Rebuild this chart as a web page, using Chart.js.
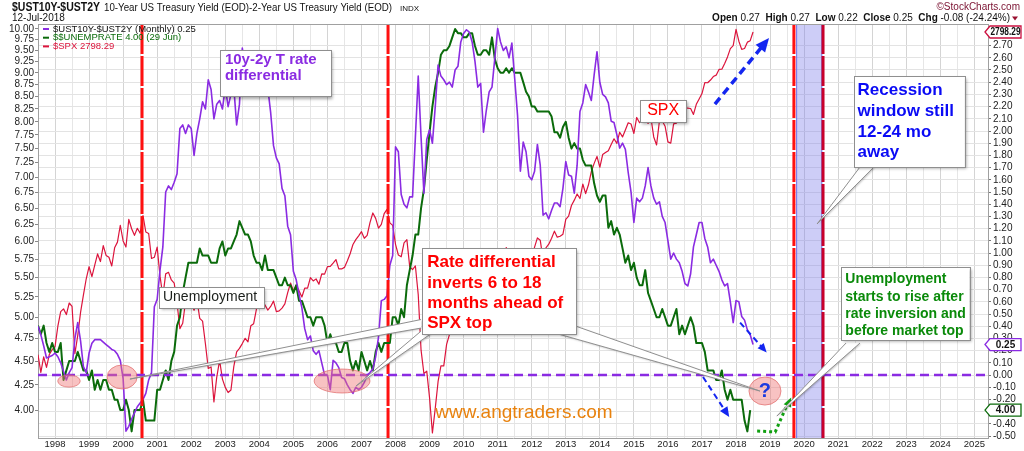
<!DOCTYPE html>
<html><head><meta charset="utf-8">
<script src="https://cdn.jsdelivr.net/npm/chart.js@4.4.1/dist/chart.umd.min.js"></script>
<style>html,body{margin:0;padding:0;background:#fff;overflow:hidden}canvas{display:block}</style>
</head><body>
<canvas id="c" width="1024" height="451" style="width:1024px;height:451px"></canvas>
<script>
// ---------- DATA (monthly, first value = Jul 1997) ----------
const START_YEAR = 1997, START_MONTH = 7;
const yearLabels = ['1998','1999','2000','2001','2002','2003','2004','2005','2006','2007','2008','2009','2010','2011','2012','2013','2014','2015','2016','2017','2018','2019','2020','2021','2022','2023','2024','2025'];
const leftTicks = ['4.00','4.25','4.50','4.75','5.00','5.25','5.50','5.75','6.00','6.25','6.50','6.75','7.00','7.25','7.50','7.75','8.00','8.25','8.50','8.75','9.00','9.25','9.50','9.75','10.00'];
const rightTicks = ['-0.50','-0.40','-0.30','-0.20','-0.10','0.00','0.10','0.20','0.30','0.40','0.50','0.60','0.70','0.80','0.90','1.00','1.10','1.20','1.30','1.40','1.50','1.60','1.70','1.80','1.90','2.00','2.10','2.20','2.30','2.40','2.50','2.60','2.70'];

// 10y-2y spread, % (right axis)
const spread = [
 0.40,0.33,0.24,0.14,0.15,0.16,
 0.18,0.15,0.10,0.03,-0.04,0.02,0.06,0.30,0.43,0.28,0.07,0.02,
 0.18,0.26,0.29,0.29,0.29,0.27,0.25,0.23,0.21,0.20,0.17,0.12,
 -0.03,-0.46,-0.42,-0.36,-0.31,-0.26,-0.23,-0.20,-0.15,-0.04,0.02,0.56,
 0.62,0.86,1.05,1.50,1.55,1.52,1.58,1.65,2.02,2.05,1.98,2.05,
 2.02,1.80,1.98,2.10,2.24,2.18,2.42,2.34,2.10,2.22,2.25,2.18,
 2.36,2.20,2.30,2.36,2.05,2.22,2.68,2.52,2.35,2.52,2.38,2.45,
 2.35,2.45,2.38,2.35,2.15,1.88,1.78,1.73,1.53,1.47,1.22,1.15,
 0.85,0.78,0.66,0.55,0.38,0.29,0.32,0.20,0.17,0.20,0.10,0.00,
 0.00,-0.12,0.12,0.10,0.06,-0.02,-0.03,-0.08,-0.12,-0.15,-0.10,-0.12,
 -0.10,-0.06,0.00,0.02,0.05,0.15,0.31,0.61,0.62,0.65,0.90,0.98,
 1.87,1.83,1.48,1.40,1.37,1.46,1.46,1.95,2.45,1.95,1.49,1.93,
 2.01,1.90,2.20,2.54,2.45,2.42,2.38,2.40,2.36,2.50,2.53,2.73,
 2.80,2.83,2.81,2.73,2.57,2.36,2.39,1.99,2.17,2.32,2.36,2.60,
 2.84,2.73,2.66,2.69,2.60,2.72,2.43,2.13,1.67,1.91,1.83,1.63,
 1.60,1.67,1.89,1.72,1.31,1.33,1.28,1.35,1.41,1.41,1.38,1.53,
 1.75,1.64,1.63,1.49,1.72,2.16,2.23,2.38,2.32,2.25,2.46,2.65,
 2.40,2.30,2.28,2.23,2.08,2.07,1.97,1.86,1.90,1.85,1.66,1.50,
 1.25,1.45,1.42,1.45,1.55,1.70,1.55,1.45,1.40,1.42,1.30,1.25,
 1.10,0.95,1.00,0.95,0.92,0.85,0.75,0.73,0.83,1.05,1.15,1.25,
 1.25,1.12,1.05,0.92,0.95,0.90,0.85,0.78,0.73,0.75,0.60,0.43,
 0.61,0.60,0.48,0.45,0.37,0.33,0.25
];
// Unemployment rate, % (left log axis)
const unemployment = [
 4.9,4.8,4.9,4.7,4.6,4.7,
 4.6,4.6,4.7,4.3,4.4,4.5,4.5,4.5,4.6,4.5,4.4,4.4,
 4.3,4.4,4.2,4.3,4.2,4.3,4.3,4.2,4.2,4.1,4.1,4.0,
 4.0,4.1,4.0,3.8,4.0,4.0,4.0,4.1,3.9,3.9,3.9,3.9,
 4.2,4.2,4.3,4.4,4.3,4.5,4.6,4.9,5.0,5.3,5.5,5.7,
 5.7,5.7,5.7,5.9,5.8,5.8,5.8,5.7,5.7,5.7,5.9,6.0,
 5.8,5.9,5.9,6.0,6.1,6.3,6.2,6.1,6.1,6.0,5.8,5.7,
 5.7,5.6,5.8,5.6,5.6,5.6,5.5,5.4,5.4,5.5,5.4,5.4,
 5.3,5.4,5.2,5.2,5.1,5.0,5.0,4.9,5.0,5.0,5.0,4.9,
 4.7,4.8,4.7,4.7,4.6,4.6,4.7,4.7,4.5,4.4,4.5,4.4,
 4.6,4.5,4.4,4.5,4.4,4.6,4.7,4.6,4.7,4.7,4.7,5.0,
 5.0,4.9,5.1,5.0,5.4,5.6,5.8,6.1,6.1,6.5,6.8,7.3,
 7.8,8.3,8.7,9.0,9.4,9.5,9.5,9.6,9.8,10.0,9.9,9.9,
 9.8,9.8,9.9,9.9,9.6,9.4,9.4,9.5,9.5,9.4,9.8,9.3,
 9.1,9.0,9.0,9.1,9.0,9.1,9.0,9.0,9.0,8.8,8.6,8.5,
 8.3,8.3,8.2,8.2,8.2,8.2,8.2,8.1,7.8,7.8,7.7,7.9,
 8.0,7.7,7.5,7.6,7.5,7.5,7.3,7.2,7.2,7.2,6.9,6.7,
 6.6,6.7,6.7,6.2,6.3,6.1,6.2,6.1,5.9,5.7,5.8,5.6,
 5.7,5.5,5.4,5.4,5.6,5.3,5.2,5.1,5.0,5.0,5.1,5.0,
 4.9,4.9,5.0,5.1,4.8,4.9,4.8,4.9,5.0,4.9,4.7,4.7,
 4.7,4.6,4.4,4.4,4.4,4.3,4.3,4.4,4.2,4.1,4.2,4.1,
 4.1,4.1,4.1,3.9,3.8,4.0
];
// S&P 500 monthly close (hidden log axis)
const spx = [
 954.3,899.5,947.3,914.6,955.4,970.4,
 980.3,1049.3,1101.8,1111.8,1090.8,1133.8,1120.7,957.3,1017.0,1098.7,1163.6,1229.2,
 1279.6,1238.3,1286.4,1335.2,1301.8,1372.7,1328.7,1320.4,1282.7,1362.9,1388.9,1469.3,
 1394.5,1366.4,1498.6,1452.4,1420.6,1454.6,1430.8,1517.7,1436.5,1429.4,1315.2,1320.3,
 1366.0,1239.9,1160.3,1249.5,1255.8,1224.4,1211.2,1133.6,1040.9,1059.8,1139.5,1148.1,
 1130.2,1106.7,1147.4,1076.9,1067.1,989.8,911.6,916.1,815.3,885.8,936.3,879.8,
 855.7,841.2,848.2,916.9,963.6,974.5,990.3,1008.0,996.0,1050.7,1058.2,1111.9,
 1131.1,1144.9,1126.2,1107.3,1120.7,1140.8,1101.7,1104.2,1114.6,1130.2,1173.8,1211.9,
 1181.3,1203.6,1180.6,1156.9,1191.5,1191.3,1234.2,1220.3,1228.8,1207.0,1249.5,1248.3,
 1280.1,1280.7,1294.8,1310.6,1270.1,1270.2,1276.7,1303.8,1335.9,1377.9,1400.6,1418.3,
 1438.2,1406.8,1420.9,1482.4,1530.6,1503.4,1455.3,1473.9,1527.0,1549.4,1481.1,1468.4,
 1378.6,1330.6,1322.7,1385.6,1400.4,1280.0,1267.4,1282.8,1166.4,968.8,896.2,903.3,
 825.9,735.1,797.9,872.8,919.1,919.3,987.5,1020.6,1057.1,1036.2,1095.6,1115.1,
 1073.9,1104.5,1169.4,1186.7,1089.4,1030.7,1101.6,1049.3,1141.2,1183.3,1180.6,1257.6,
 1286.1,1327.2,1325.8,1363.6,1345.2,1320.6,1292.3,1218.9,1131.4,1253.3,1247.0,1257.6,
 1312.4,1365.7,1408.5,1397.9,1310.3,1362.2,1379.3,1406.6,1440.7,1412.2,1416.2,1426.2,
 1498.1,1514.7,1569.2,1597.6,1630.7,1606.3,1685.7,1633.0,1681.6,1756.5,1805.8,1848.4,
 1782.6,1859.5,1872.3,1883.9,1923.6,1960.2,1930.7,2003.4,1972.3,2018.1,2067.6,2058.9,
 1995.0,2104.5,2067.9,2085.5,2107.4,2063.1,2104.0,1972.2,1920.0,2079.4,2080.4,2043.9,
 1940.2,1932.2,2059.7,2065.3,2096.9,2098.9,2173.6,2170.9,2168.3,2126.2,2199.0,2238.8,
 2278.9,2363.6,2362.7,2384.2,2411.8,2423.4,2470.3,2471.7,2519.4,2575.3,2647.6,2673.6,
 2823.8,2713.8,2640.9,2648.1,2705.3,2718.4,2798.29
];
const quote = {open:'0.27', high:'0.27', low:'0.22', close:'0.25', chg:'-0.08 (-24.24%)'};
const unempDate = '29 Jun';

// ---------- CHART ----------
const FONT = '"Liberation Sans", Arial, Helvetica, sans-serif';
const monthX = i => START_YEAR + (START_MONTH - 1 + i) / 12;
const series = (vals, axis, color, width) => ({
  data: vals.map((v, i) => ({x: monthX(i), y: v})),
  yAxisID: axis, borderColor: color, borderWidth: width, pointRadius: 0,
  fill: false, tension: 0, borderJoinStyle: 'round'
});
const last = a => a[a.length - 1];

function box(ctx, x1, y1, x2, y2) {
  ctx.save();
  ctx.shadowColor = 'rgba(0,0,0,0.35)'; ctx.shadowOffsetX = 2; ctx.shadowOffsetY = 2; ctx.shadowBlur = 3;
  ctx.fillStyle = '#fff'; ctx.fillRect(x1, y1, x2 - x1, y2 - y1);
  ctx.restore();
  ctx.strokeStyle = '#8f8f8f'; ctx.lineWidth = 1; ctx.setLineDash([]);
  ctx.strokeRect(Math.round(x1) + 0.5, Math.round(y1) + 0.5, Math.round(x2 - x1), Math.round(y2 - y1));
}
function wedge(ctx, a, b, tip) {
  ctx.save();
  ctx.beginPath(); ctx.moveTo(a[0], a[1]); ctx.lineTo(tip[0], tip[1]); ctx.lineTo(b[0], b[1]); ctx.closePath();
  ctx.shadowColor = 'rgba(0,0,0,0.25)'; ctx.shadowOffsetX = 1; ctx.shadowOffsetY = 1; ctx.shadowBlur = 2;
  ctx.fillStyle = '#fff'; ctx.fill();
  ctx.restore();
  ctx.beginPath(); ctx.moveTo(a[0], a[1]); ctx.lineTo(tip[0], tip[1]); ctx.lineTo(b[0], b[1]);
  ctx.strokeStyle = '#8f8f8f'; ctx.lineWidth = 1; ctx.setLineDash([]); ctx.stroke();
}
function head(ctx, x1, y1, x2, y2, size, color) {
  const a = Math.atan2(y2 - y1, x2 - x1);
  ctx.beginPath(); ctx.moveTo(x2, y2);
  ctx.lineTo(x2 - size * Math.cos(a - 0.42), y2 - size * Math.sin(a - 0.42));
  ctx.lineTo(x2 - size * Math.cos(a + 0.42), y2 - size * Math.sin(a + 0.42));
  ctx.closePath(); ctx.fillStyle = color; ctx.fill();
}
function dashedArrow(ctx, p1, p2, width, dash, size, color) {
  const a = Math.atan2(p2[1] - p1[1], p2[0] - p1[0]);
  ctx.beginPath(); ctx.moveTo(p1[0], p1[1]);
  ctx.lineTo(p2[0] - size * 0.8 * Math.cos(a), p2[1] - size * 0.8 * Math.sin(a));
  ctx.strokeStyle = color; ctx.lineWidth = width; ctx.setLineDash(dash); ctx.stroke(); ctx.setLineDash([]);
  head(ctx, p1[0], p1[1], p2[0], p2[1], size, color);
}
function lines(ctx, arr, x, ys, font, color) {
  ctx.font = font; ctx.fillStyle = color; ctx.textAlign = 'left'; ctx.textBaseline = 'middle';
  arr.forEach((t, i) => ctx.fillText(t, x, ys[i]));
}

const deco = {
  id: 'deco',
  afterDatasetsDraw(chart) {
    const {ctx, chartArea: ca, scales} = chart;
    const X = v => scales.x.getPixelForValue(v);
    const Y = v => scales.yR.getPixelForValue(v);
    const P = (yr, v) => [X(yr), Y(v)];
    ctx.save();
    ctx.beginPath(); ctx.rect(ca.left, ca.top, ca.right - ca.left, ca.bottom - ca.top); ctx.clip();

    // recession window
    ctx.fillStyle = 'rgba(130,130,235,0.40)';
    ctx.fillRect(X(2019.78), ca.top, X(2020.52) - X(2019.78), ca.bottom - ca.top);
    ctx.strokeStyle = '#6f6fe8'; ctx.lineWidth = 1;
    [2019.78, 2020.52].forEach(v => { ctx.beginPath(); ctx.moveTo(X(v), ca.top); ctx.lineTo(X(v), ca.bottom); ctx.stroke(); });

    // vertical red lines
    [[2000.555, '#ff1010'], [2007.78, '#ff1010'], [2019.70, '#ff1010'], [2020.555, '#c8002c']].forEach(([v, c]) => {
      ctx.beginPath(); ctx.moveTo(X(v), ca.top); ctx.lineTo(X(v), ca.bottom);
      ctx.strokeStyle = c; ctx.lineWidth = 3; ctx.setLineDash([30, 2]); ctx.stroke();
    });
    ctx.setLineDash([]);

    // zero line (inversion level)
    ctx.beginPath(); ctx.moveTo(ca.left, Y(0)); ctx.lineTo(ca.right, Y(0));
    ctx.strokeStyle = '#8a2be2'; ctx.lineWidth = 2.5; ctx.setLineDash([9, 5]); ctx.stroke(); ctx.setLineDash([]);

    // pink ellipses
    [[1998.41, -0.049, 0.33, 0.05], [1999.97, -0.016, 0.44, 0.098], [2006.43, -0.049, 0.82, 0.098], [2018.85, -0.131, 0.47, 0.115]].forEach(([cx, cy, rx, ry]) => {
      ctx.beginPath();
      ctx.ellipse(X(cx), Y(cy), X(cx + rx) - X(cx), Y(cy - ry) - Y(cy), 0, 0, Math.PI * 2);
      ctx.fillStyle = 'rgba(240,120,120,0.45)'; ctx.fill();
      ctx.strokeStyle = 'rgba(225,110,110,0.75)'; ctx.lineWidth = 1; ctx.stroke();
    });
    ctx.font = 'bold 20px ' + FONT; ctx.fillStyle = '#1a3ae0'; ctx.textAlign = 'center'; ctx.textBaseline = 'middle';
    ctx.fillText('?', X(2018.85), Y(-0.131));

    // blue dashed arrows
    dashedArrow(ctx, P(2017.38, 2.221), P(2018.97, 2.762), 3.5, [8, 5], 15, '#1426f0');
    dashedArrow(ctx, P(2018.12, 0.43), P(2018.90, 0.185), 2, [6, 4], 10, '#1426f0');
    dashedArrow(ctx, P(2017.03, -0.016), P(2017.80, -0.344), 2, [6, 4], 11, '#1426f0');

    // green dotted arrow
    const g1 = P(2018.62, -0.459), g2 = P(2019.15, -0.467), g3 = P(2019.62, -0.185);
    ctx.beginPath(); ctx.moveTo(g1[0], g1[1]); ctx.lineTo(g2[0], g2[1]); ctx.lineTo(g3[0] - 4, g3[1] + 7);
    ctx.strokeStyle = '#11a011'; ctx.lineWidth = 3; ctx.setLineDash([3, 3]); ctx.stroke(); ctx.setLineDash([]);
    head(ctx, g2[0], g2[1], g3[0], g3[1], 10, '#11a011');

    // callout wedges
    wedge(ctx, P(2021.64, 1.705), P(2022.05, 1.705), P(2020.38, 1.238));
    wedge(ctx, P(2021.23, 0.262), P(2021.64, 0.262), P(2019.20, -0.336));
    wedge(ctx, P(2012.80, 0.335), P(2013.30, 0.40), P(2018.70, -0.131));
    wedge(ctx, P(2008.75, 0.455), P(2008.75, 0.385), P(2000.20, -0.033));
    wedge(ctx, P(2008.75, 0.36), P(2009.02, 0.335), P(2006.84, -0.090));

    // boxes + text
    let a, b;
    a = P(2002.85, 2.66); b = P(2006.11, 2.28); box(ctx, a[0], a[1], b[0], b[1]);
    lines(ctx, ['10y-2y T rate', 'differential'], X(2002.99), [Y(2.582), Y(2.451)], 'bold 15px ' + FONT, '#8a2be2');

    a = P(2015.18, 2.254); b = P(2016.53, 2.074); box(ctx, a[0], a[1], b[0], b[1]);
    ctx.font = '16px ' + FONT; ctx.fillStyle = '#ff0000'; ctx.textAlign = 'center'; ctx.textBaseline = 'middle';
    ctx.fillText('SPX', X(2015.86), Y(2.164));

    a = P(2021.45, 2.45); b = P(2024.72, 1.705); box(ctx, a[0], a[1], b[0], b[1]);
    lines(ctx, ['Recession', 'window still', '12-24 mo', 'away'], X(2021.57), [Y(2.336), Y(2.164), Y(1.992), Y(1.828)], 'bold 17px ' + FONT, '#0a0af5');

    a = P(2008.77, 1.041); b = P(2013.30, 0.335); box(ctx, a[0], a[1], b[0], b[1]);
    lines(ctx, ['Rate differential', 'inverts 6 to 18', 'months ahead of', 'SPX top'], X(2008.93), [Y(0.926), Y(0.754), Y(0.590), Y(0.426)], 'bold 17px ' + FONT, '#ff0000');

    a = P(2021.08, 0.885); b = P(2024.86, 0.287); box(ctx, a[0], a[1], b[0], b[1]);
    lines(ctx, ['Unemployment', 'starts to rise after', 'rate inversion and', 'before market top'], X(2021.21), [Y(0.787), Y(0.639), Y(0.500), Y(0.361)], 'bold 14px ' + FONT, '#0a8a0a');

    a = P(2001.05, 0.721); b = P(2004.14, 0.549); box(ctx, a[0], a[1], b[0], b[1]);
    lines(ctx, ['Unemployment'], X(2001.17), [Y(0.635)], '14px ' + FONT, '#1b1f1b');

    ctx.font = '19px ' + FONT; ctx.fillStyle = '#e8820e'; ctx.textAlign = 'center'; ctx.textBaseline = 'middle';
    ctx.fillText('www.angtraders.com', X(2011.77), Y(-0.311));

    // legend
    const leg = [
      ['#8a2be2', '$UST10Y-$UST2Y (Monthly) ' + last(spread).toFixed(2), '#111'],
      ['#0b6b0b', '$$UNEMPRATE ' + last(unemployment).toFixed(2) + ' (' + unempDate + ')', '#0b6b0b'],
      ['#dc143c', '$SPX ' + last(spx).toFixed(2), '#dc143c']
    ];
    ctx.font = '9.5px ' + FONT; ctx.textAlign = 'left'; ctx.textBaseline = 'middle';
    leg.forEach(([lc, t, tc], i) => {
      const y = ca.top + 5 + i * 8.7;
      ctx.fillStyle = lc; ctx.fillRect(ca.left + 5, y - 1, 6, 2);
      ctx.fillStyle = tc; ctx.fillText(t, ca.left + 15, y);
    });
    ctx.restore();
  },
  afterDraw(chart) {
    const {ctx, chartArea: ca, scales} = chart;
    ctx.save();
    // top frame line
    ctx.strokeStyle = '#a0a0a0'; ctx.lineWidth = 1;
    ctx.beginPath(); ctx.moveTo(ca.left, ca.top + 0.5); ctx.lineTo(ca.right, ca.top + 0.5); ctx.stroke();

    // header
    ctx.textBaseline = 'middle'; ctx.textAlign = 'left'; ctx.fillStyle = '#111';
    ctx.font = 'bold 12px ' + FONT; ctx.fillText('$UST10Y-$UST2Y', 12, 8, 88);
    ctx.font = '10.5px ' + FONT; ctx.fillText('10-Year US Treasury Yield (EOD)-2-Year US Treasury Yield (EOD)', 104, 8, 288);
    ctx.font = '8px ' + FONT; ctx.fillText('INDX', 400, 8.5);
    ctx.font = '10px ' + FONT; ctx.fillText('12-Jul-2018', 12, 18.5);

    ctx.textAlign = 'right'; ctx.font = '10px ' + FONT; ctx.fillStyle = '#7a1030';
    ctx.fillText('\u00A9StockCharts.com', 1020, 7);
    const segs = [['Open', 1], [' ' + quote.open + '  ', 0], ['High', 1], [' ' + quote.high + '  ', 0], ['Low', 1], [' ' + quote.low + '  ', 0], ['Close', 1], [' ' + quote.close + '  ', 0], ['Chg', 1], [' ' + quote.chg, 0]];
    let w = 0;
    segs.forEach(([t, bd]) => { ctx.font = (bd ? 'bold ' : '') + '10px ' + FONT; w += ctx.measureText(t).width; });
    let x = 1010 - w;
    ctx.textAlign = 'left'; ctx.fillStyle = '#111';
    segs.forEach(([t, bd]) => { ctx.font = (bd ? 'bold ' : '') + '10px ' + FONT; ctx.fillText(t, x, 18.5); x += ctx.measureText(t).width; });
    ctx.fillStyle = '#9a1030';
    ctx.beginPath(); ctx.moveTo(1012, 16.5); ctx.lineTo(1018, 16.5); ctx.lineTo(1015, 20.5); ctx.closePath(); ctx.fill();

    // value tags on right
    const tag = (y, txt, col) => {
      const x0 = ca.right - 3, x1 = ca.right + 2, x2 = ca.right + 33;
      ctx.beginPath(); ctx.moveTo(x0, y); ctx.lineTo(x1, y - 6); ctx.lineTo(x2, y - 6); ctx.lineTo(x2, y + 6); ctx.lineTo(x1, y + 6); ctx.closePath();
      ctx.fillStyle = '#fff'; ctx.fill(); ctx.strokeStyle = col; ctx.lineWidth = 1.3; ctx.stroke();
      ctx.font = 'bold 10px ' + FONT; ctx.fillStyle = '#111'; ctx.textAlign = 'center'; ctx.textBaseline = 'middle';
      ctx.fillText(txt, (x1 + x2) / 2, y + 0.5, 30);
    };
    tag(scales.yS.getPixelForValue(last(spx)), last(spx).toFixed(2), '#cc1040');
    tag(scales.yR.getPixelForValue(last(spread)), last(spread).toFixed(2), '#8a2be2');
    tag(scales.yL.getPixelForValue(last(unemployment)), last(unemployment).toFixed(2), '#0b6b0b');
    ctx.restore();
  }
};

const xTicks = [];
yearLabels.forEach(y => { xTicks.push(+y); xTicks.push(+y + 0.5); });

new Chart(document.getElementById('c').getContext('2d'), {
  type: 'line',
  data: { datasets: [
    series(spread, 'yR', '#8a2be2', 1.6),
    series(unemployment, 'yL', '#0b6b0b', 2),
    series(spx, 'yS', '#dc143c', 1.2)
  ]},
  options: {
    responsive: false, animation: false, parsing: true,
    layout: { padding: { top: 24, left: 0, right: 0, bottom: 0 } },
    plugins: { legend: { display: false }, tooltip: { enabled: false } },
    scales: {
      x: {
        type: 'linear', min: 1997.50, max: 2025.40, bounds: 'data',
        afterBuildTicks: s => { s.ticks = xTicks.filter(v => v <= 2025.4).map(v => ({value: v})); },
        afterFit: s => { s.height = 13; },
        ticks: { autoSkip: false, maxRotation: 0, padding: 1, color: '#222', font: { family: FONT, size: 9.5 },
          callback: v => (yearLabels.includes(String(v)) ? String(v) : '') },
        grid: { color: c => (c.tick && Number.isInteger(c.tick.value) ? '#d4d4d4' : '#e6e6e6'), tickLength: 0 },
        border: { color: '#a0a0a0' }
      },
      yL: {
        type: 'logarithmic', position: 'left', min: 3.74, max: 10.12, bounds: 'data',
        afterBuildTicks: s => { s.ticks = leftTicks.map(t => ({value: parseFloat(t)})); },
        afterFit: s => { s.width = 38; },
        ticks: { autoSkip: false, padding: 1, color: '#222', font: { family: FONT, size: 10 }, callback: (v, i) => leftTicks[i] },
        grid: { drawOnChartArea: false, tickLength: 3, color: '#888' },
        border: { color: '#a0a0a0' }
      },
      yR: {
        type: 'linear', position: 'right', min: -0.516, max: 2.877, bounds: 'data',
        afterBuildTicks: s => { s.ticks = rightTicks.map(t => ({value: parseFloat(t)})); },
        afterFit: s => { s.width = 36; },
        ticks: { autoSkip: false, padding: 2, color: '#222', font: { family: FONT, size: 10 }, callback: (v, i) => rightTicks[i] },
        grid: { color: '#e3e3e3', tickLength: 3, tickColor: '#777' },
        border: { color: '#a0a0a0' }
      },
      yS: { type: 'logarithmic', display: false, min: 722.9, max: 2873.9, bounds: 'data' }
    }
  },
  plugins: [deco]
});
</script>
</body></html>
